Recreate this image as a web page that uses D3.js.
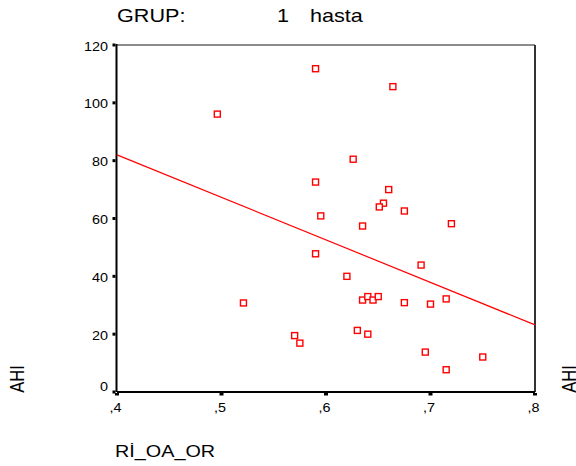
<!DOCTYPE html>
<html>
<head>
<meta charset="utf-8">
<script src="https://cdn.jsdelivr.net/npm/d3@7"></script>
<style>
  body { margin: 0; background: #fff; }
  text { font-family: "Liberation Sans", Arial, sans-serif; fill: #000; }
</style>
</head>
<body>
<div id="chart"></div>
<script>
// values
var riOaOr = [0.496, 0.590, 0.664, 0.626, 0.590, 0.660, 0.655, 0.651, 0.675, 0.595,
    0.720, 0.635, 0.590, 0.691, 0.620, 0.521, 0.635, 0.640, 0.645, 0.650,
    0.675, 0.700, 0.715, 0.630, 0.640, 0.570, 0.575, 0.695, 0.750, 0.715]
var ahi = [96.1, 111.8, 105.6, 80.5, 72.6, 70.0, 65.3, 64.0, 62.6, 60.9,
    58.2, 57.4, 47.8, 43.9, 40.0, 30.8, 31.8, 33.0, 31.8, 33.0,
    30.9, 30.4, 32.2, 21.3, 20.0, 19.5, 16.9, 13.8, 12.1, 7.7]
var fitX = [0.4, 0.8]
var fitY = [82.0, 23.2]
var xTicks = [0.4, 0.5, 0.6, 0.7, 0.8]
var yTicks = [0, 20, 40, 60, 80, 100, 120]

var width = 576, height = 466
var plot = { left: 117, right: 535, top: 45, bottom: 392 }

var svg = d3.select("#chart")
    .append("svg")
    .attr("width", width)
    .attr("height", height)

var x = d3.scaleLinear().domain([0.4, 0.8]).range([plot.left, plot.right])
var y = d3.scaleLinear().domain([0, 120]).range([plot.bottom, plot.top])

// the picture is a bit wider than the font, stretch text sideways
function place(tx, ty) { return "translate(" + tx + "," + ty + ") scale(1.2,1)" }

// title
svg.append("text").attr("transform", place(117, 22)).attr("font-size", 18).text("GRUP:")
svg.append("text").attr("transform", place(277, 22)).attr("font-size", 18).text("1")
svg.append("text").attr("transform", place(310, 22)).attr("font-size", 18).text("hasta")

// frame: top and right in dark grey
svg.append("line").attr("x1", plot.left).attr("x2", plot.right).attr("y1", plot.top).attr("y2", plot.top)
    .attr("stroke", "#666").attr("stroke-width", 1.5)
svg.append("line").attr("x1", plot.right).attr("x2", plot.right).attr("y1", plot.top).attr("y2", plot.bottom)
    .attr("stroke", "#333").attr("stroke-width", 2)

// axes
var xAxis = d3.axisBottom(x).tickValues(xTicks).tickSize(0).tickPadding(0)
    .tickFormat(function (d) { return d3.format(".1f")(d).replace("0.", ",") })
var gx = svg.append("g").attr("transform", "translate(0," + plot.bottom + ")").call(xAxis)
gx.select(".domain").remove()
gx.selectAll("text").attr("font-size", 12).attr("fill", "#000")
    .attr("text-anchor", "middle").attr("dy", 0)
    .attr("y", 0).attr("x", 0)
    .attr("transform", place(-2, 20))

var yAxis = d3.axisLeft(y).tickValues(yTicks).tickSize(0).tickPadding(0)
var gy = svg.append("g").attr("transform", "translate(" + plot.left + ",0)").call(yAxis)
gy.select(".domain").remove()
gy.selectAll("text").attr("font-size", 12).attr("fill", "#000")
    .attr("text-anchor", "end").attr("dy", 0).attr("x", 0)
    .attr("transform", function (d) { return place(-9, d === 0 ? -2 : 5) })

// axis lines
svg.append("line").attr("x1", plot.left).attr("x2", plot.right).attr("y1", plot.bottom).attr("y2", plot.bottom)
    .attr("stroke", "#000").attr("stroke-width", 2)
svg.append("line").attr("x1", plot.left - 0.5).attr("x2", plot.left - 0.5).attr("y1", plot.top - 1).attr("y2", plot.bottom)
    .attr("stroke", "#000").attr("stroke-width", 2)

// tick squares
svg.selectAll(".xt").data(xTicks).enter().append("rect")
    .attr("x", function (d) { return x(d) - 2 }).attr("y", plot.bottom + 1)
    .attr("width", 4).attr("height", 2.5).attr("fill", "#000")
svg.selectAll(".yt").data(yTicks).enter().append("rect")
    .attr("x", plot.left - 4.5).attr("y", function (d) { return y(d) - 1.5 })
    .attr("width", 3).attr("height", 3).attr("fill", "#000")

// fit line
svg.append("path")
    .datum(d3.zip(fitX, fitY))
    .attr("d", d3.line().x(function (d) { return x(d[0]) }).y(function (d) { return y(d[1]) }))
    .attr("fill", "none").attr("stroke", "red").attr("stroke-width", 1.2)

// points
svg.selectAll(".pt").data(d3.zip(riOaOr, ahi)).enter().append("rect")
    .attr("x", function (d) { return x(d[0]) - 3 })
    .attr("y", function (d) { return y(d[1]) - 3 })
    .attr("width", 6).attr("height", 6)
    .attr("fill", "#fff").attr("stroke", "red").attr("stroke-width", 1.4)

// axis titles
svg.append("text").attr("transform", place(115, 457)).attr("font-size", 16.5).text("Rİ_OA_OR")
svg.append("text").attr("transform", place(24, 379) + " rotate(-90)")
    .attr("font-size", 16.5).attr("text-anchor", "middle").text("AHI")
svg.append("text").attr("transform", place(576, 379) + " rotate(-90)")
    .attr("font-size", 16.5).attr("text-anchor", "middle").text("AHI")
</script>
</body>
</html>
